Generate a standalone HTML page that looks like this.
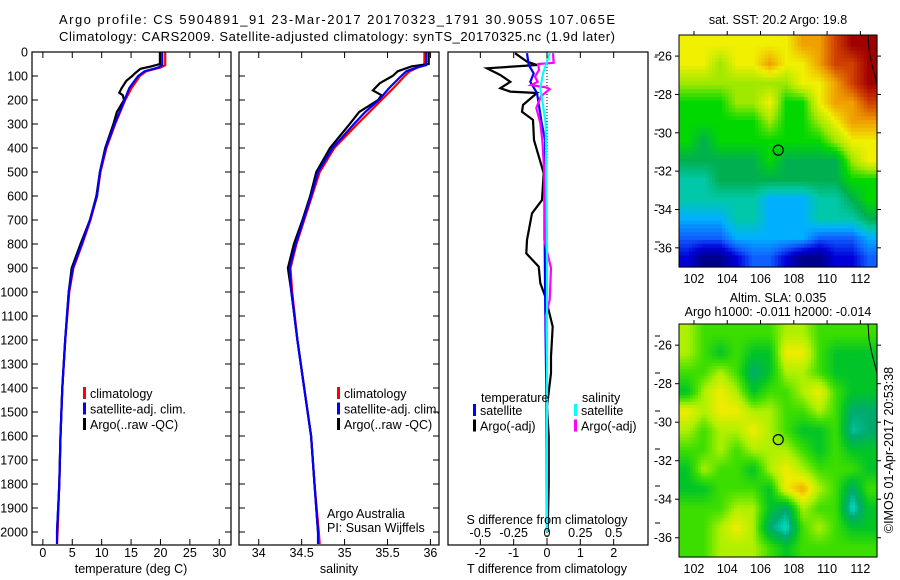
<!DOCTYPE html>
<html><head><meta charset="utf-8"><style>
body{margin:0;background:#fff;}
svg{display:block;font-family:"Liberation Sans",sans-serif;}
text{font-size:12.5px;fill:#000;}
</style></head><body>
<svg id="fig" width="900" height="580" viewBox="0 0 900 580" xmlns="http://www.w3.org/2000/svg">
<text x="59" y="24" textLength="556" style="font-size:13px">Argo profile: CS 5904891_91 23-Mar-2017 20170323_1791 30.905S 107.065E</text>
<text x="59" y="41" textLength="556" style="font-size:13px">Climatology: CARS2009. Satellite-adjusted climatology: synTS_20170325.nc (1.9d later)</text>
<g id="g"></g>
</svg>
<script>
// ---------- data ----------
const depthTicks=[0,100,200,300,400,500,600,700,800,900,1000,1100,1200,1300,1400,1500,1600,1700,1800,1900,2000];
const tempTicks=[0,5,10,15,20,25,30];
const salTicks=[34,34.5,35,35.5,36];
const tdiffTicks=[-2,-1,0,1,2];
const sdiffTicks=[-0.5,-0.25,0,0.25,0.5];
const tClimDepth=[0,55,65,80,100,150,200,300,400,500,600,700,800,900,1000,1200,1400,1600,1800,2000,2050];
const tClimVal=[20.8,20.8,20.0,17.6,16.5,15.1,14.0,12.3,10.8,9.8,9.2,8.1,6.7,5.2,4.5,3.8,3.3,3.0,2.8,2.5,2.4];
const tSatVal=[20.3,20.3,19.6,17.3,16.2,14.7,13.9,12.2,10.7,9.7,9.2,8.0,6.6,5.1,4.4,3.8,3.3,3.0,2.8,2.4,2.4];
const tArgoDepth=[0,50,60,70,90,100,120,150,170,180,200,250,300,400,500,600,700,800,900,1000,1200,1400,1600,1800,2000];
const tArgoVal=[19.9,19.9,18.4,16.6,15.6,15.2,14.2,13.4,13.0,13.6,13.8,12.6,12.0,10.6,9.7,9.1,8.0,6.4,4.9,4.4,3.8,3.3,3.0,2.8,2.4];
const sClimDepth=[0,55,65,80,100,150,200,250,300,400,500,600,700,800,900,1000,1200,1400,1600,1800,2000,2050];
const sClimVal=[35.93,35.93,35.85,35.76,35.70,35.57,35.43,35.29,35.15,34.88,34.71,34.62,34.53,34.44,34.37,34.39,34.45,34.53,34.61,34.65,34.70,34.71];
const sSatVal=[35.95,35.95,35.84,35.72,35.66,35.52,35.40,35.24,35.11,34.86,34.69,34.61,34.52,34.43,34.36,34.38,34.45,34.53,34.61,34.65,34.69,34.69];
const sArgoDepth=[0,50,60,80,100,130,160,180,200,250,300,400,500,600,700,800,900,1000,1200,1400,1600,1800,2000];
const sArgoVal=[35.98,35.98,35.78,35.62,35.56,35.41,35.33,35.43,35.39,35.17,35.06,34.83,34.67,34.60,34.51,34.41,34.34,34.38,34.45,34.53,34.61,34.65,34.69];
const dTArgoDepth=[5,40,54,68,96,124,151,165,171,221,249,283,367,505,617,672,783,839,894,963,1019,1144,1269,1338,1477,1600,1800,2000];
const dTArgoVal=[-0.96,-0.6,-0.3,-1.8,-1.4,-1.1,-1.4,-1.1,-0.3,-0.72,-0.75,-0.42,-0.39,-0.1,-0.15,-0.45,-0.6,-0.62,-0.25,-0.2,-0.05,0.17,0.12,0.12,0.0,0.05,0.05,0.02];
const dTSatDepth=[5,54,89,124,171,296,367,500,800,1100,1400,2000];
const dTSatVal=[-0.6,-0.55,-0.4,-0.5,-0.3,-0.16,-0.06,-0.07,-0.07,-0.05,-0.02,0.0];
const dSArgoDepth=[5,45,50,75,103,124,138,148,155,184,233,296,367,505,783,900,1033,1100,1300,1600,2000];
const dSArgoVal=[0.045,0.05,-0.065,-0.06,-0.09,-0.07,-0.12,0.0,0.02,-0.045,-0.08,-0.05,-0.035,-0.02,-0.02,0.03,0.02,-0.01,0.0,0.0,0.0];
const dSSatDepth=[5,89,150,296,505,800,1200,2000];
const dSSatVal=[0.02,-0.03,-0.05,-0.01,-0.005,0.0,0.0,0.0];
const sstGrid=[
[8,8,8,8,8,8,8,9,9,10,11,11],
[8,8,7,8,8,9,8,8,9,10,10,11],
[7,7,7,7,7,7,7,8,8,9,10,11],
[6,6,6,7,7,8,6,6,8,9,9,10],
[6,6,6,6,6,7,6,6,7,8,9,9],
[6,5,6,6,6,6,6,6,6,7,8,8],
[5,5,5,5,5,6,5,5,5,5,7,8],
[4,4,5,5,5,5,5,5,5,5,6,6],
[4,4,4,4,4,3,3,3,4,4,5,6],
[3,3,3,4,4,3,3,3,4,4,4,5],
[2,2,2,3,3,3,3,3,2,2,2,3],
[1,0,0,1,2,2,1,0,0,1,1,2]];
const slaGrid=[
[4,3,3,3,3,3,4,4,3,3,3,3],
[4,3,2,3,2,2,5,5,3,2,2,2],
[3,3,4,3,1,2,4,4,3,2,2,2],
[2,4,5,4,2,3,3,4,5,3,2,2],
[5,4,5,5,4,4,3,3,4,3,1,1],
[4,3,4,4,5,4,3,2,2,3,0.5,1],
[3,3,4,3,4,4,4,3,2,3,2,2],
[2,4,3,3,2,4,5,4,3,3,3,2],
[2,2,3,3,3,2,5,6,4,3,1,3],
[3,3,3,4,4,2,1,4,3,3,0,2],
[3,3,4,5,4,1,0,3,4,3,2,2],
[3,3,4,4,4,3,2,3,3,3,3,3]];
const lonTicks=[102,104,106,108,110,112];
const latTicks=[-26,-28,-30,-32,-34,-36];
const argoLon=107.065, argoLat=-30.905;

// ---------- helpers ----------
const NS="http://www.w3.org/2000/svg";
const G=document.getElementById('g');
function el(tag,attrs,parent){const e=document.createElementNS(NS,tag);for(const k in attrs)e.setAttribute(k,attrs[k]);(parent||G).appendChild(e);return e;}
function txt(x,y,s,anchor,parent,size){const t=el('text',{x:x,y:y,'text-anchor':anchor||'start'},parent);if(size)t.style.fontSize=size+'px';t.textContent=s;return t;}
const TOP=52,BOT=545;
const yD=d=>TOP+d*0.24;

function panel(name,x0,x1,xmin,xmax){
  const g=el('g',{});
  
  
  const fx=v=>x0+(v-xmin)/(xmax-xmin)*(x1-x0);
  return {g,fx,x0,x1};
}
function frame(p,withDepthTicks){
  const r=el('rect',{x:p.x0,y:TOP,width:p.x1-p.x0,height:BOT-TOP,fill:'none',stroke:'#000','stroke-width':1.2},p.g);
  
  
  if(withDepthTicks){
    depthTicks.forEach(d=>{el('line',{x1:p.x0,x2:p.x0+6,y1:yD(d),y2:yD(d),stroke:'#000'},p.g);el('line',{x1:p.x1,x2:p.x1-6,y1:yD(d),y2:yD(d),stroke:'#000'},p.g);});
  }
}
function xticks(p,ticks,fmt){
  ticks.forEach(v=>{const x=p.fx(v);el('line',{x1:x,x2:x,y1:BOT,y2:BOT-6,stroke:'#000'},p.g);el('line',{x1:x,x2:x,y1:TOP,y2:TOP+6,stroke:'#000'},p.g);
    const t=txt(x,557,fmt?fmt(v):String(v),'middle',p.g);
    
    });
}
function line(p,xs,ds,color,w,name){
  const pts=xs.map((v,i)=>p.fx(v).toFixed(1)+','+yD(ds[i]).toFixed(1)).join(' ');
  const l=el('polyline',{points:pts,fill:'none',stroke:color,'stroke-width':w,'stroke-linejoin':'miter'},p.g);
  
  
}
function legend(p,x,y,items){
  items.forEach((it,i)=>{
    const yy=y+i*15.5;
    if(it.c){const b=el('rect',{x:x,y:yy-11,width:3,height:12,fill:it.c},p.g);}
    const t=txt(x+(it.c?7:0),yy,it.t,'start',p.g);
    
    
  });
}

depthTicks.forEach(d=>{const t=txt(28,yD(d)+4.5,String(d),'end');
  
  });

const p1=panel('temperature-panel',32,231,-1.85,32);
line(p1,tClimVal,tClimDepth,'#f00',2.2,'temp-climatology-line');
line(p1,tArgoVal,tArgoDepth,'#000',2.2,'temp-argo-line');
line(p1,tSatVal,tClimDepth,'#00f',2.2,'temp-satellite-line');
frame(p1,true);xticks(p1,tempTicks);
{const t=txt(131,573,'temperature (deg C)','middle',p1.g);}
legend(p1,83,398,[{c:'#f00',t:'climatology'},{c:'#00f',t:'satellite-adj. clim.'},{c:'#000',t:'Argo(..raw -QC)'}]);

const p2=panel('salinity-panel',239,439,33.77,36.1);
line(p2,sClimVal,sClimDepth,'#f00',2.2,'sal-climatology-line');
line(p2,sArgoVal,sArgoDepth,'#000',2.2,'sal-argo-line');
line(p2,sSatVal,sClimDepth,'#00f',2.2,'sal-satellite-line');
frame(p2,true);xticks(p2,salTicks);
{const t=txt(339,573,'salinity','middle',p2.g);}
legend(p2,337,398,[{c:'#f00',t:'climatology'},{c:'#00f',t:'satellite-adj. clim.'},{c:'#000',t:'Argo(..raw -QC)'}]);
{const a=txt(327,518,'Argo Australia','start',p2.g);
 const b=txt(327,532,'PI: Susan Wijffels','start',p2.g);}

const p3=panel('difference-panel',448,648,-2.97,3.03);
const p3s={g:p3.g,fx:v=>p3.fx(v*4),x0:448,x1:648};
el('line',{x1:p3.fx(0),x2:p3.fx(0),y1:TOP,y2:BOT,stroke:'#000','stroke-dasharray':'1,2'},p3.g);
line(p3,dTArgoVal,dTArgoDepth,'#000',2.2,'tdiff-argo-line');
line(p3,dTSatVal,dTSatDepth,'#00f',2.2,'tdiff-satellite-line');
line(p3s,dSArgoVal,dSArgoDepth,'#f0f',2.2,'sdiff-argo-line');
line(p3s,dSSatVal,dSSatDepth,'#0ff',2.2,'sdiff-satellite-line');
frame(p3,false);xticks(p3,tdiffTicks);
sdiffTicks.forEach(v=>{const t=txt(p3s.fx(v),537,String(v),'middle',p3.g);});
{const a=txt(547,524,'S difference from climatology','middle',p3.g);
 const b=txt(547,573,'T difference from climatology','middle',p3.g);}
legend(p3,481,402,[{t:'temperature'}]);
legend(p3,473,415,[{c:'#00f',t:'satellite'},{c:'#000',t:'Argo(-adj)'}]);
legend(p3,582,402,[{t:'salinity'}]);
legend(p3,574,415,[{c:'#0ff',t:'satellite'},{c:'#f0f',t:'Argo(-adj)'}]);
[55,92,130,168,205,242,336,373,411,449,486,523].forEach(y=>el('line',{x1:655,x2:660,y1:y,y2:y,stroke:'#000'},p3.g));

// ---------- maps ----------
const sstCols=[[0,0,140],[0,0,215],[16,96,255],[0,176,255],[0,200,168],[0,176,80],[0,216,0],[160,232,0],[240,240,0],[240,160,0],[208,64,0],[160,0,0]];
const slaCols=[[0,224,208],[0,170,110],[0,196,40],[60,222,0],[175,240,0],[240,236,0],[240,170,0]];
function mapPanel(name,yT,yB,grid,pal,n){
  const x0=679,x1=877,lonMin=101.1,lonMax=113,latMax=-24.9,latMin=-37;
  const fx=l=>x0+(l-lonMin)/(lonMax-lonMin)*(x1-x0);
  const fy=l=>yT+(latMax-l)/(latMax-latMin)*(yB-yT);
  const g=el('g',{});
  
  
  const R=grid.length,C=grid[0].length;
  const cw=(x1-x0)/(C*n),ch=(yB-yT)/(R*n);
  for(let i=0;i<R*n;i++)for(let j=0;j<C*n;j++){
    let gy=(i+0.5)/n-0.5,gx=(j+0.5)/n-0.5;
    gy=Math.max(0,Math.min(R-1,gy));gx=Math.max(0,Math.min(C-1,gx));
    const i0=Math.floor(gy),j0=Math.floor(gx),i1=Math.min(R-1,i0+1),j1=Math.min(C-1,j0+1),fy2=gy-i0,fx2=gx-j0;
    const v=grid[i0][j0]*(1-fy2)*(1-fx2)+grid[i0][j1]*(1-fy2)*fx2+grid[i1][j0]*fy2*(1-fx2)+grid[i1][j1]*fy2*fx2;
    const k=Math.max(0,Math.min(pal.length-1.001,v)),a=Math.floor(k),t=k-a,c0=pal[a],c1=pal[a+1];
    const col='rgb('+c0.map((q,m)=>Math.round(q+(c1[m]-q)*t)).join(',')+')';
    el('rect',{x:(x0+j*cw).toFixed(2),y:(yT+i*ch).toFixed(2),width:(cw+0.6).toFixed(2),height:(ch+0.6).toFixed(2),fill:col},g);
  }
  el('polyline',{points:[[868,yT],[869,yT+15],[872,yT+30],[876,yT+45],[877,yT+50]].map(p=>p.join(',')).join(' '),fill:'none',stroke:'#000','stroke-width':1},g);
  const c=el('circle',{cx:fx(argoLon),cy:fy(argoLat),r:5,fill:'none',stroke:'#000','stroke-width':1.2},g);
  
  
  el('rect',{x:x0,y:yT,width:x1-x0,height:yB-yT,fill:'none',stroke:'#000'},g);
  lonTicks.forEach(l=>{const x=fx(l);el('line',{x1:x,x2:x,y1:yT,y2:yT-4,stroke:'#000'},g);
    const t=txt(x,yB+16,String(l),'middle',g);});
  latTicks.forEach(l=>{const y=fy(l);el('line',{x1:x0,x2:x0-4,y1:y,y2:y,stroke:'#000'},g);el('line',{x1:x1,x2:x1+4,y1:y,y2:y,stroke:'#000'},g);
    const t=txt(672,y+4.5,String(l),'end',g);});
  return g;
}
const m1=mapPanel('sst-map',35,267,sstGrid,sstCols,5);
const m2=mapPanel('sla-map',324,557,slaGrid,slaCols,6);
{const a=txt(778,24,'sat. SST: 20.2 Argo: 19.8','middle',m1);
 const b=txt(778,302,'Altim. SLA: 0.035','middle',m2);
 const c=txt(778,316,'Argo h1000: -0.011 h2000: -0.014','middle',m2);
 const d=txt(0,0,'©IMOS 01-Apr-2017 20:53:38','middle');d.setAttribute('transform','translate(893,450) rotate(-90)');
 
 }
</script>
</body></html>
